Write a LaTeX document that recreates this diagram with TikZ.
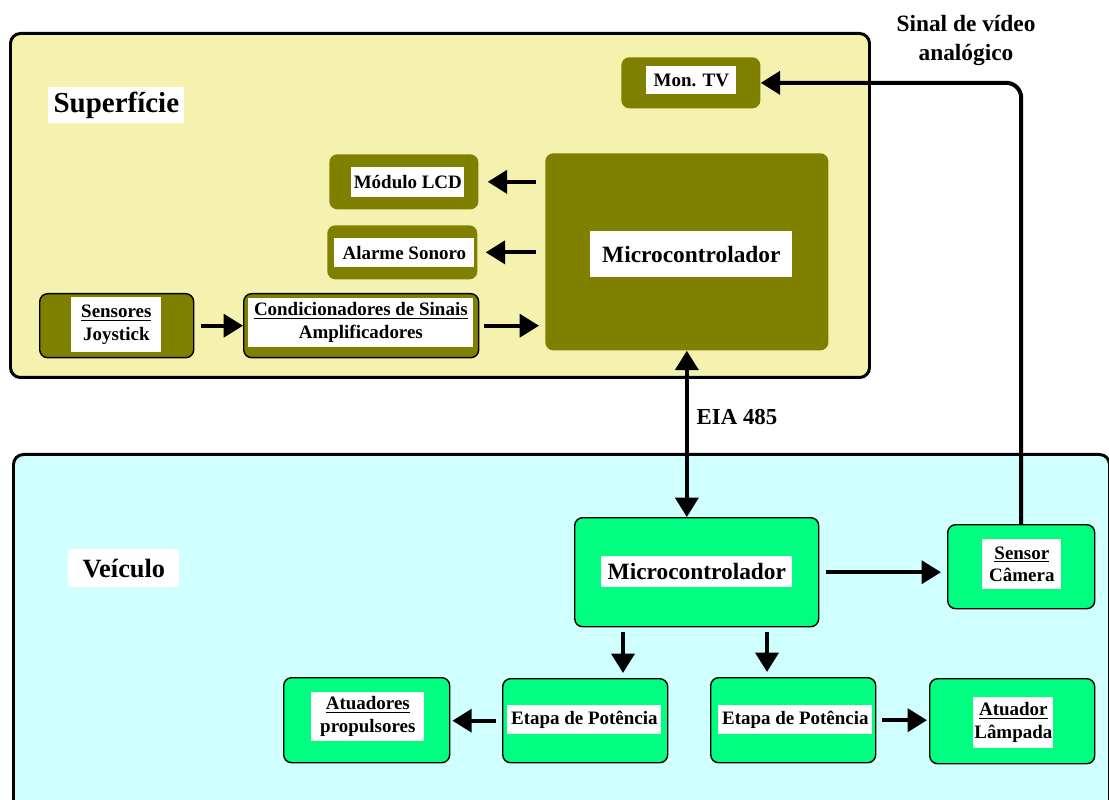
\documentclass[tikz,border=0pt]{standalone}
\usepackage{fontspec}
\setmainfont{Liberation Serif}
\usetikzlibrary{positioning,arrows.meta}

\definecolor{surfaceYellow}{RGB}{245,242,175}
\definecolor{vehicleCyan}{RGB}{208,255,255}
\definecolor{blockOlive}{RGB}{128,128,0}
\definecolor{blockGreen}{RGB}{0,255,128}

\begin{document}
\begin{tikzpicture}[x=0.02cm,y=-0.02cm]
  \newdimen\unit
  \unit=0.02cm

  \tikzstyle{panel} = [
    % The shape:
    rectangle, anchor=north west, rounded corners=2mm, inner sep=0pt,
    % The border:
    line width=1.7pt, draw=black
  ];
  \tikzstyle{oliveBlock} = [
    rectangle, anchor=north west, rounded corners=1.6mm, inner sep=0pt,
    fill=blockOlive
  ];
  \tikzstyle{greenBlock} = [
    rectangle, anchor=north west, rounded corners=1.6mm, inner sep=0pt,
    fill=blockGreen, draw=black, line width=0.8pt
  ];
  \tikzstyle{whiteTag} = [
    % Text on a white patch
    rectangle, anchor=north west, inner sep=0pt, fill=white, align=center,
    font=\fontsize{10.8}{13}\selectfont\bfseries
  ];
  \tikzstyle{bigTag} = [
    whiteTag, font=\fontsize{13.3}{16}\selectfont\bfseries
  ];
  \tikzstyle{flow} = [
    draw=black, line width=2.3pt,
    -{Triangle[length=11pt,width=13pt]}
  ];

  \useasboundingbox (0,0) rectangle (1109,800);

  %% Panels
  \node [panel, fill=surfaceYellow, minimum width=859\unit, minimum height=344\unit]
        (surface) at (9,32) {};
  \node [panel, fill=vehicleCyan, minimum width=1096\unit, minimum height=360\unit]
        (vehicle) at (12,453) {};

  \node [whiteTag, font=\fontsize{16.5}{19}\selectfont\bfseries,
         minimum width=136\unit, minimum height=36\unit] (surfaceTitle) at (48,87) {Superfície};
  \node [whiteTag, font=\fontsize{15}{18}\selectfont\bfseries,
         minimum width=111\unit, minimum height=38\unit] (vehicleTitle) at (68,549) {Veículo};

  %% Surface blocks
  \node [oliveBlock, minimum width=139\unit, minimum height=51\unit] (monTV) at (621,57) {};
  \node [whiteTag, minimum width=90\unit, minimum height=28\unit] (monTVText) at (646,66) {Mon. TV};

  \node [oliveBlock, minimum width=283\unit, minimum height=197\unit] (micro) at (545,153) {};
  \node [bigTag, minimum width=202\unit, minimum height=46\unit] (microText) at (590,231) {Microcontrolador};

  \node [oliveBlock, minimum width=149\unit, minimum height=55\unit] (lcd) at (329,154) {};
  \node [whiteTag, minimum width=113\unit, minimum height=30\unit] (lcdText) at (351,167) {Módulo LCD};

  \node [oliveBlock, minimum width=150\unit, minimum height=54\unit] (alarm) at (327,225) {};
  \node [whiteTag, minimum width=140\unit, minimum height=29\unit] (alarmText) at (334,238) {Alarme Sonoro};

  \node [oliveBlock, draw=black, line width=0.8pt, minimum width=154\unit, minimum height=64\unit]
        (sensors) at (39,293) {};
  \node [whiteTag, minimum width=90\unit, minimum height=55\unit] (sensorsText) at (71,297)
        {\underline{Sensores}\\Joystick};

  \node [oliveBlock, draw=black, line width=0.8pt, minimum width=235\unit, minimum height=64\unit]
        (cond) at (243,293) {};
  \node [whiteTag, minimum width=225\unit, minimum height=49\unit] (condText) at (248,298)
        {\underline{Condicionadores de Sinais}\\Amplificadores};

  %% Vehicle blocks
  \node [greenBlock, minimum width=244\unit, minimum height=109\unit] (vmicro) at (574,517) {};
  \node [bigTag, minimum width=191\unit, minimum height=31\unit] (vmicroText) at (601,556) {Microcontrolador};

  \node [greenBlock, minimum width=147\unit, minimum height=84\unit] (camera) at (947,524) {};
  \node [whiteTag, minimum width=79\unit, minimum height=50\unit] (cameraText) at (982,539)
        {\underline{Sensor}\\Câmera};

  \node [greenBlock, minimum width=165\unit, minimum height=84\unit] (power1) at (502,678) {};
  \node [whiteTag, minimum width=154\unit, minimum height=29\unit] (power1Text) at (507,705) {Etapa de Potência};

  \node [greenBlock, minimum width=165\unit, minimum height=85\unit] (power2) at (710,677) {};
  \node [whiteTag, minimum width=154\unit, minimum height=29\unit] (power2Text) at (718,705) {Etapa de Potência};

  \node [greenBlock, minimum width=166\unit, minimum height=85\unit] (thrusters) at (283,677) {};
  \node [whiteTag, minimum width=113\unit, minimum height=49\unit] (thrustersText) at (311,692)
        {\underline{Atuadores}\\propulsores};

  \node [greenBlock, minimum width=165\unit, minimum height=85\unit] (lamp) at (929,678) {};
  \node [whiteTag, minimum width=80\unit, minimum height=51\unit] (lampText) at (973,697)
        {\underline{Atuador}\\Lâmpada};

  \node [align=center, font=\fontsize{13.3}{16.5}\selectfont\bfseries] (videoText) at (966,40)
        {Sinal de vídeo\\analógico};

  \coordinate (tap1) at (623,626);
  \coordinate (tap2) at (767,626);

  %% Connections
  \path [flow, shorten <=7\unit] (sensors.east) to (sensors.east -| cond.west);
  \path [flow, shorten <=5\unit, shorten >=6\unit] (cond.east) to (cond.east -| micro.west);
  \path [flow, shorten <=9\unit, shorten >=9\unit] (micro.west |- lcd) to (lcd.east);
  \path [flow, shorten <=9\unit, shorten >=8\unit] (micro.west |- alarm) to (alarm.east);

  \path [flow, {Triangle[length=11pt,width=13pt]}-{Triangle[length=11pt,width=13pt]}]
        (micro.south) to node[pos=0.4, right=2\unit, font=\fontsize{13}{16}\selectfont\bfseries]
        (eiaText) {EIA 485} (micro.south |- vmicro.north);

  \path [flow, rounded corners=3mm] (camera.north) |- (monTV.east);

  \path [flow, shorten <=7\unit, shorten >=6\unit] (vmicro.east) to (vmicro.east -| camera.west);
  \path [flow, shorten <=6\unit, shorten >=5\unit] (tap1) to (tap1 |- power1.north);
  \path [flow, shorten <=6\unit, shorten >=5\unit] (tap2) to (tap2 |- power2.north);
  \path [flow, shorten <=6\unit, shorten >=2\unit] (power1.west) to (power1.west -| thrusters.east);
  \path [flow, shorten <=6\unit, shorten >=2\unit] (power2.east) to (power2.east -| lamp.west);
\end{tikzpicture}
\end{document}
